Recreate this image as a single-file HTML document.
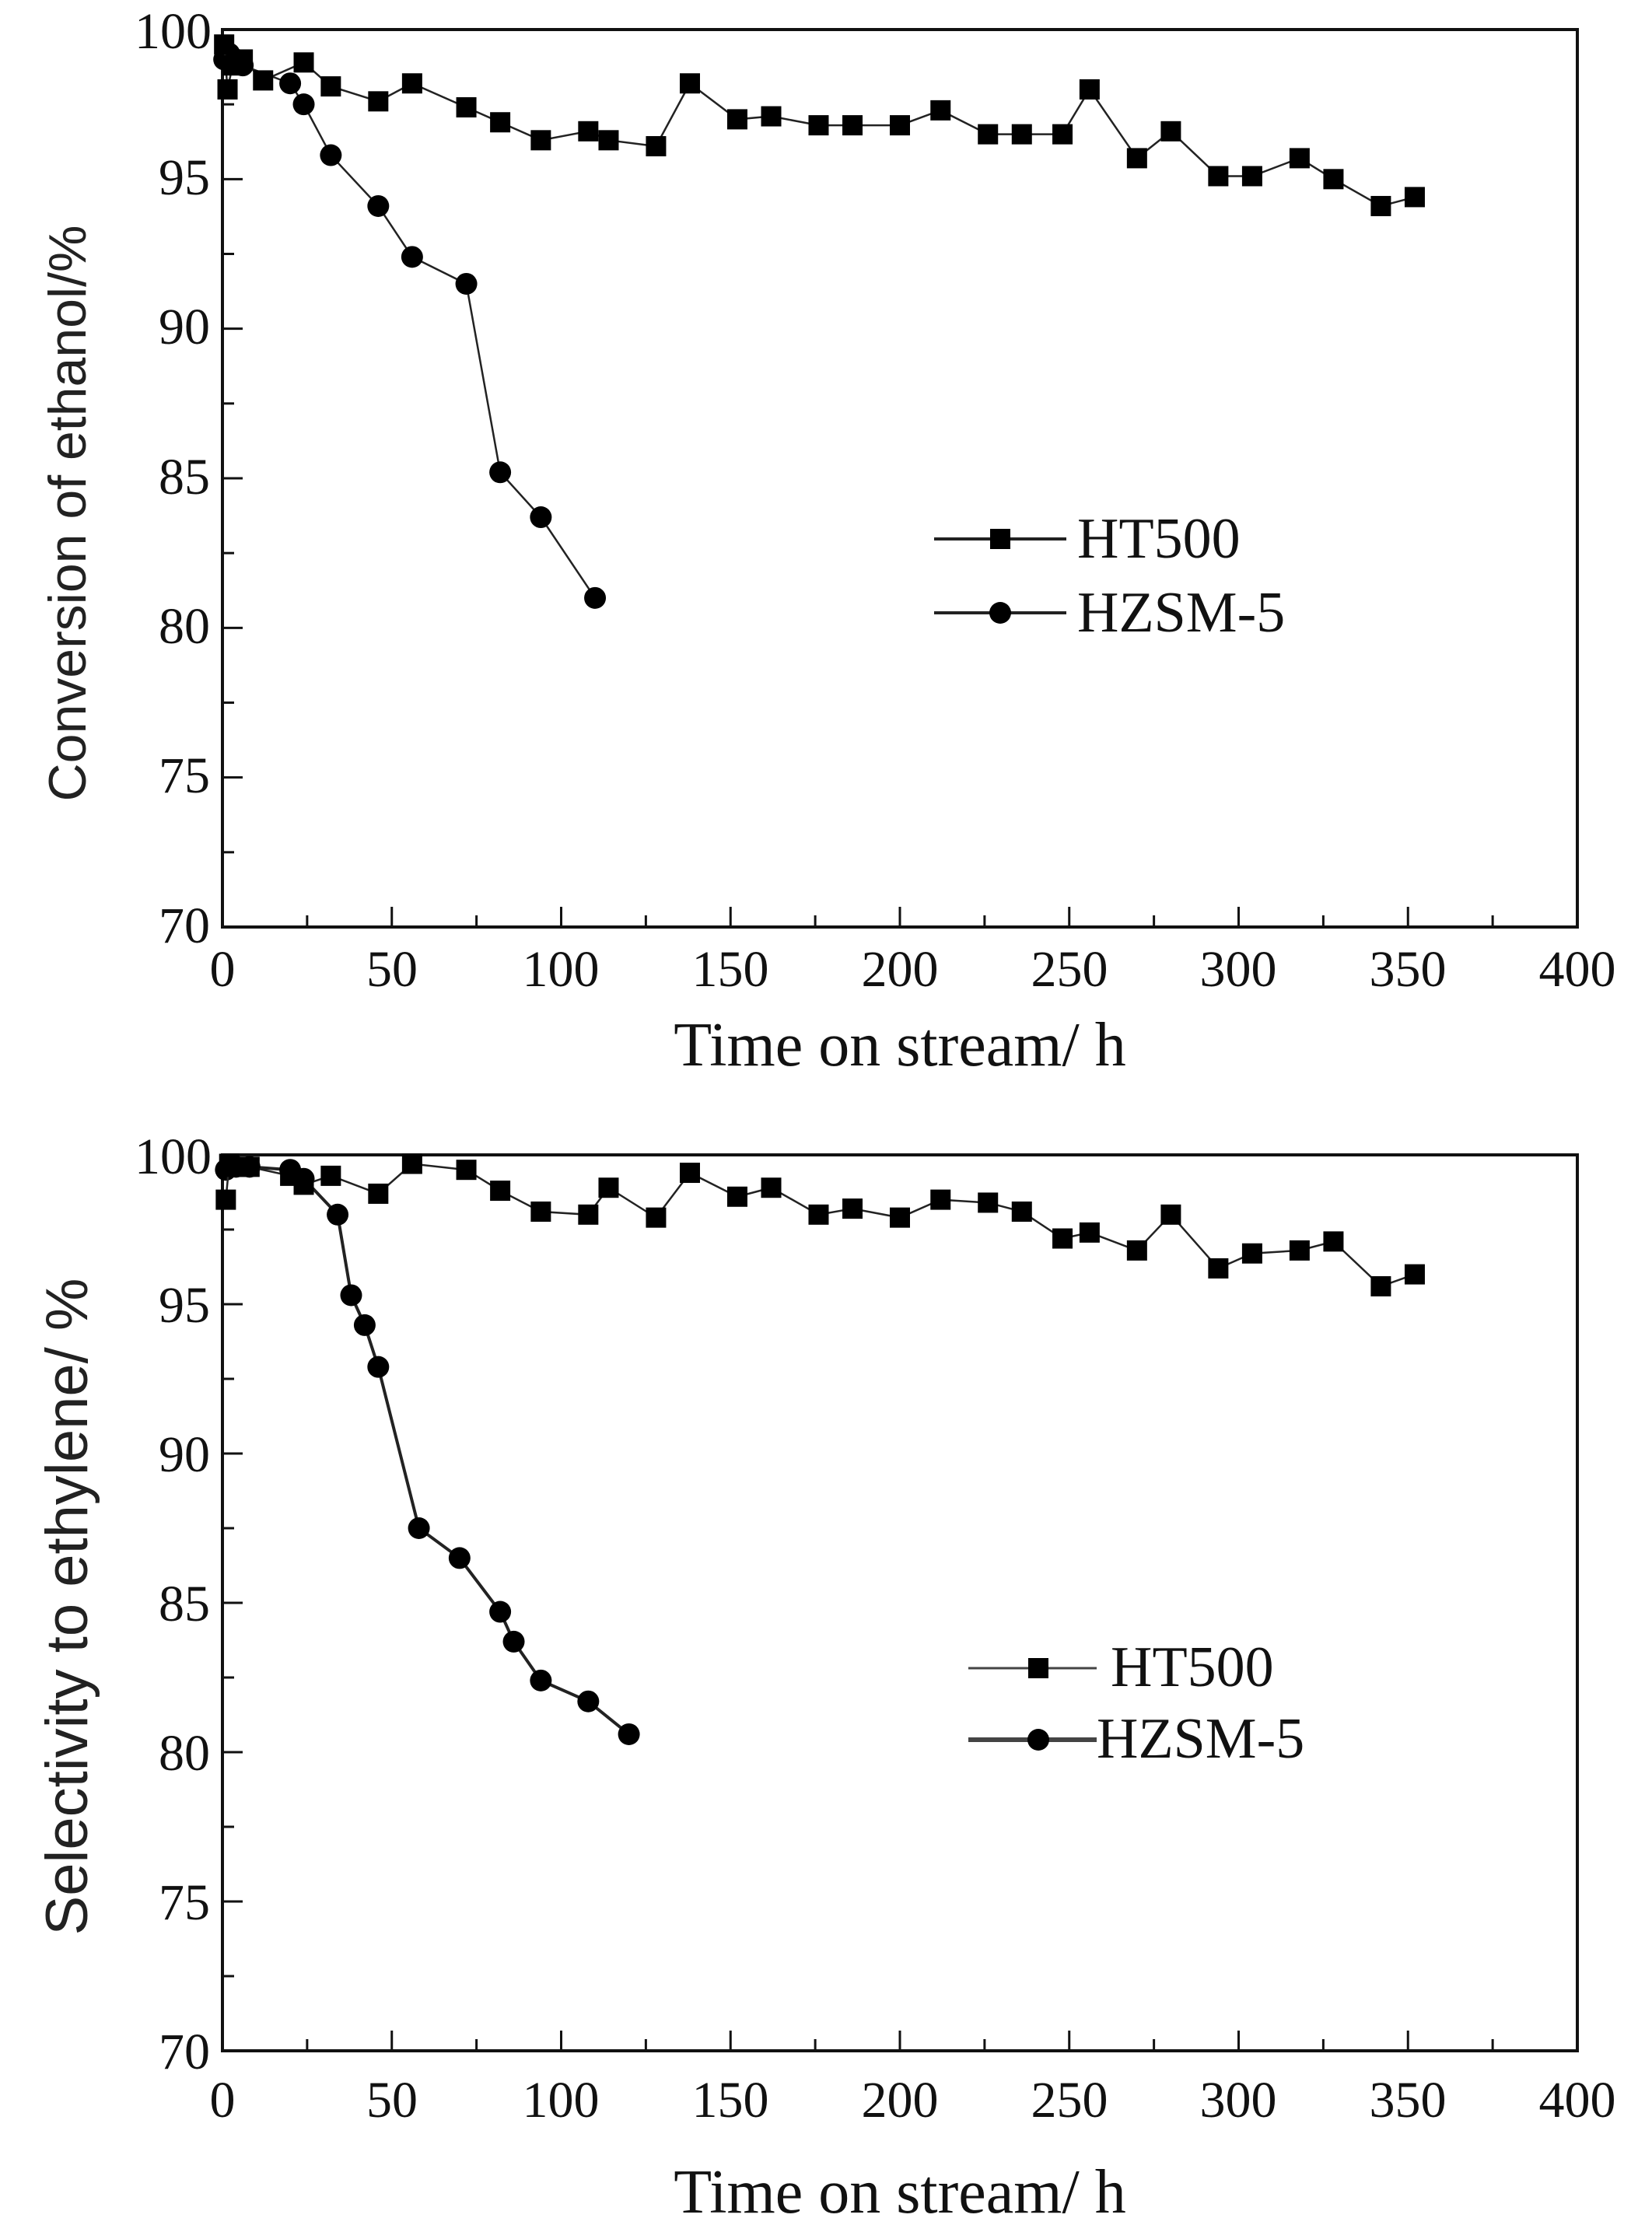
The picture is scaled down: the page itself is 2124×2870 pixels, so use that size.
<!DOCTYPE html>
<html><head><meta charset="utf-8"><style>
html,body{margin:0;padding:0;background:#fff}
svg{display:block}
.t{font-family:"Liberation Serif",serif;fill:#111}
.s{font-family:"Liberation Sans",sans-serif;fill:#222}
</style></head><body>
<svg id="c" width="2124" height="2870" viewBox="0 0 2124 2870" xmlns="http://www.w3.org/2000/svg">
<rect width="2124" height="2870" fill="#fff"/>
<g id="g"></g>
<g class="t" font-size="66" text-anchor="end">
<text x="272" y="62">100</text>
<text x="270" y="250">95</text>
<text x="270" y="442">90</text>
<text x="270" y="635">85</text>
<text x="270" y="827">80</text>
<text x="270" y="1019">75</text>
<text x="270" y="1212">70</text>
</g>
<g class="t" font-size="66" text-anchor="middle">
<text x="286" y="1268">0</text><text x="504" y="1268">50</text><text x="721" y="1268">100</text><text x="939" y="1268">150</text><text x="1157" y="1268">200</text><text x="1375" y="1268">250</text><text x="1592" y="1268">300</text><text x="1810" y="1268">350</text><text x="2028" y="1268">400</text>
</g>
<text class="t" x="1157" y="1370" font-size="80" text-anchor="middle">Time on stream/ h</text>
<text class="s" x="0" y="0" font-size="68" text-anchor="middle" transform="translate(110,660) rotate(-90)">Conversion of ethanol/%</text>
<g class="t" font-size="74"><text x="1385" y="717">HT500</text><text x="1385" y="812">HZSM-5</text></g>
<g class="t" font-size="66" text-anchor="end">
<text x="272" y="1509">100</text>
<text x="270" y="1700">95</text>
<text x="270" y="1892">90</text>
<text x="270" y="2084">85</text>
<text x="270" y="2276">80</text>
<text x="270" y="2468">75</text>
<text x="270" y="2660">70</text>
</g>
<g class="t" font-size="66" text-anchor="middle">
<text x="286" y="2722">0</text><text x="504" y="2722">50</text><text x="721" y="2722">100</text><text x="939" y="2722">150</text><text x="1157" y="2722">200</text><text x="1375" y="2722">250</text><text x="1592" y="2722">300</text><text x="1810" y="2722">350</text><text x="2028" y="2722">400</text>
</g>
<text class="t" x="1157" y="2845" font-size="80" text-anchor="middle">Time on stream/ h</text>
<text class="s" x="0" y="0" font-size="76" text-anchor="middle" transform="translate(112,2066) rotate(-90)">Selectivity to ethylene/ %</text>
<g class="t" font-size="74"><text x="1428" y="2168">HT500</text><text x="1410" y="2260">HZSM-5</text></g>
</svg>
<script>
var NS="http://www.w3.org/2000/svg",G=document.getElementById("g");
function el(n,a){var e=document.createElementNS(NS,n);for(var k in a)e.setAttribute(k,a[k]);G.appendChild(e);return e;}
var X0=286,X1=2028;
function plot(top,bot,ht,hz,lw2){
 var fx=function(t){return X0+(X1-X0)*t/400},fy=function(v){return bot-(bot-top)*(v-70)/30};
 el("rect",{x:X0,y:top,width:X1-X0,height:bot-top,fill:"none",stroke:"#111","stroke-width":4});
 for(var i=1;i<16;i++){var x=X0+(X1-X0)*i/16;el("line",{x1:x,x2:x,y1:bot,y2:bot-(i%2?15:26),stroke:"#111","stroke-width":3});}
 for(var j=1;j<12;j++){var y=bot-(bot-top)*j/12;el("line",{x1:X0,x2:X0+(j%2?15:26),y1:y,y2:y,stroke:"#111","stroke-width":3});}
 function series(d,sq,w){
  el("polyline",{points:d.map(function(p){return fx(p[0])+","+fy(p[1])}).join(" "),fill:"none",stroke:"#222","stroke-width":w});
  d.forEach(function(p){var x=fx(p[0]),y=fy(p[1]);
   if(sq)el("rect",{x:x-13,y:y-13,width:26,height:26,fill:"#000"});
   else el("circle",{cx:x,cy:y,r:14,fill:"#000"});});
 }
 series(hz,false,lw2);series(ht,true,2.5);
}
plot(38,1192,
[[0.5,99.5],[1.5,98],[3,98.8],[6,99],[12,98.3],[24,98.9],[32,98.1],[46,97.6],[56,98.2],[72,97.4],[82,96.9],[94,96.3],[108,96.6],[114,96.3],[128,96.1],[138,98.2],[152,97],[162,97.1],[176,96.8],[186,96.8],[200,96.8],[212,97.3],[226,96.5],[236,96.5],[248,96.5],[256,98],[270,95.7],[280,96.6],[294,95.1],[304,95.1],[318,95.7],[328,95],[342,94.1],[352,94.4]],
[[0.5,99],[2,99.2],[4,99],[6,98.8],[20,98.2],[24,97.5],[32,95.8],[46,94.1],[56,92.4],[72,91.5],[82,85.2],[94,83.7],[110,81]],2.5);
plot(1485,2637,
[[1,98.5],[2,99.7],[4,99.6],[8,99.6],[20,99.3],[24,99],[32,99.3],[46,98.7],[56,99.7],[72,99.5],[82,98.8],[94,98.1],[108,98],[114,98.9],[128,97.9],[138,99.4],[152,98.6],[162,98.9],[176,98],[186,98.2],[200,97.9],[212,98.5],[226,98.4],[236,98.1],[248,97.2],[256,97.4],[270,96.8],[280,98],[294,96.2],[304,96.7],[318,96.8],[328,97.1],[342,95.6],[352,96]],
[[1,99.5],[4,99.6],[8,99.6],[20,99.5],[24,99.2],[34,98],[38,95.3],[42,94.3],[46,92.9],[58,87.5],[70,86.5],[82,84.7],[86,83.7],[94,82.4],[108,81.7],[120,80.6]],4);
el("line",{x1:1201,x2:1371,y1:693,y2:693,stroke:"#222","stroke-width":4});
el("rect",{x:1273,y:680,width:26,height:26,fill:"#000"});
el("line",{x1:1201,x2:1371,y1:788,y2:788,stroke:"#222","stroke-width":4});
el("circle",{cx:1286,cy:788,r:14,fill:"#000"});
el("line",{x1:1245,x2:1410,y1:2145,y2:2145,stroke:"#444","stroke-width":3});
el("rect",{x:1322,y:2132,width:26,height:26,fill:"#000"});
el("line",{x1:1245,x2:1410,y1:2237,y2:2237,stroke:"#444","stroke-width":6});
el("circle",{cx:1335,cy:2237,r:14,fill:"#000"});
</script>
</body></html>
